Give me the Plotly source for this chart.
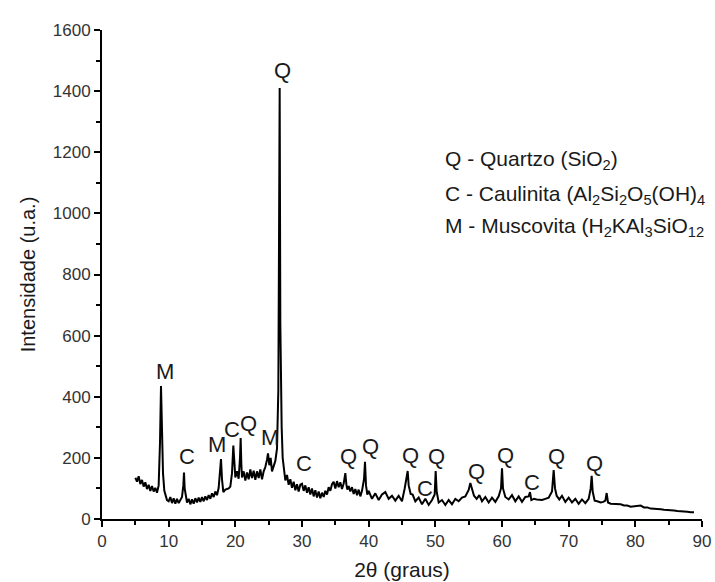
import plotly.graph_objects as go

# XRD pattern (2theta in degrees, intensity in a.u.)
two_theta = [
    5.0, 5.25, 5.5, 5.75, 6.0, 6.25, 6.5, 6.75, 7.0, 7.25, 7.5, 7.75, 8.0, 8.25, 8.5, 8.7, 8.85, 9.0, 9.15, 9.35,
    9.5, 9.75, 10.0, 10.25, 10.5, 10.75, 11.0, 11.25, 11.5, 11.75, 12.0, 12.2, 12.3, 12.4, 12.6, 12.75, 13.0, 13.25,
    13.5, 13.75, 14.0, 14.25, 14.5, 14.75, 15.0, 15.25, 15.5, 15.75, 16.0, 16.25, 16.5, 16.75, 17.0, 17.25, 17.5,
    17.7, 17.85, 18.0, 18.2, 18.5, 18.75, 19.0, 19.25, 19.5, 19.7, 19.85, 20.0, 20.25, 20.5, 20.7, 20.8, 20.9, 21.0,
    21.25, 21.5, 21.75, 22.0, 22.25, 22.5, 22.75, 23.0, 23.25, 23.5, 23.75, 24.0, 24.25, 24.5, 24.75, 24.9, 25.1,
    25.3, 25.5, 25.75, 26.0, 26.25, 26.45, 26.55, 26.65, 26.75, 26.85, 26.95, 27.1, 27.3, 27.5, 27.75, 28.0, 28.25,
    28.5, 28.75, 29.0, 29.25, 29.5, 29.75, 30.0, 30.25, 30.5, 30.75, 31.0, 31.25, 31.5, 31.75, 32.0, 32.25, 32.5,
    32.75, 33.0, 33.25, 33.5, 33.75, 34.0, 34.25, 34.5, 34.75, 35.0, 35.25, 35.5, 35.75, 36.0, 36.25, 36.5, 36.65,
    36.8, 37.0, 37.25, 37.5, 37.75, 38.0, 38.25, 38.5, 38.75, 39.0, 39.3, 39.45, 39.6, 39.8, 40.0, 40.5, 41.0, 41.5,
    42.0, 42.5, 43.0, 43.5, 44.0, 44.5, 45.0, 45.4, 45.7, 45.85, 46.0, 46.3, 46.6, 47.0, 47.5, 48.0, 48.5, 49.0,
    49.5, 49.9, 50.05, 50.2, 50.5, 51.0, 51.5, 52.0, 52.5, 53.0, 53.5, 54.0, 54.5, 55.0, 55.25, 55.5, 55.8, 56.2,
    56.6, 57.0, 57.5, 58.0, 58.5, 59.0, 59.5, 59.85, 60.0, 60.15, 60.5, 61.0, 61.5, 62.0, 62.5, 63.0, 63.5, 64.0,
    64.2, 64.4, 64.8, 65.2, 65.6, 66.0, 66.5, 67.0, 67.5, 67.75, 67.95, 68.2, 68.6, 69.0, 69.5, 70.0, 70.5, 71.0,
    71.5, 72.0, 72.5, 73.0, 73.3, 73.45, 73.6, 73.9, 74.3, 74.8, 75.2, 75.5, 75.7, 75.9, 76.3, 76.8, 77.3, 77.8,
    78.3, 78.8, 79.3, 79.8, 80.3, 80.8, 81.3, 81.8, 82.3, 82.8, 83.3, 83.8, 84.3, 84.8, 85.3, 85.8, 86.3, 86.8,
    87.3, 87.8, 88.3, 88.8, 89.3, 89.8,
]
intensity = [
    135, 122, 140, 114, 128, 106, 120, 98, 112, 92, 108, 90, 102, 86, 110, 250, 435, 300, 150, 92,
    80, 62, 58, 72, 52, 68, 50, 66, 52, 64, 72, 110, 152, 100, 70, 54, 66, 48, 64, 50, 68, 54, 70, 56,
    72, 58, 74, 62, 78, 66, 84, 72, 90, 78, 102, 160, 196, 130, 88, 96, 98, 100, 106, 150, 240, 170, 136,
    156, 132, 200, 265, 180, 136, 156, 126, 152, 130, 162, 134, 158, 128, 156, 134, 162, 130, 156, 170,
    194, 215, 176, 200, 156, 174, 190, 230, 420, 900, 1410, 640, 440, 300, 200, 164, 126, 144, 112, 130,
    102, 122, 94, 114, 90, 112, 115, 92, 110, 86, 104, 80, 100, 74, 94, 70, 90, 68, 86, 72, 92, 80, 104,
    92, 114, 122, 100, 124, 104, 120, 98, 116, 150, 114, 96, 108, 90, 104, 82, 98, 78, 96, 74, 92, 130,
    187, 110, 80, 92, 66, 84, 62, 80, 88, 66, 76, 60, 76, 58, 100, 140, 157, 110, 82, 80, 58, 70, 48,
    66, 46, 62, 80, 157, 90, 54, 62, 46, 62, 48, 66, 58, 70, 74, 95, 118, 96, 76, 66, 78, 58, 72, 54, 70,
    56, 74, 100, 166, 100, 72, 64, 78, 58, 74, 56, 72, 74, 88, 62, 66, 64, 64, 62, 66, 70, 90, 160, 100,
    76, 64, 76, 56, 70, 54, 66, 50, 64, 52, 66, 100, 141, 90, 60, 58, 54, 56, 60, 85, 54, 50, 50, 48, 48,
    44, 44, 40, 42, 42, 44, 38, 38, 34, 34, 32, 32, 30, 30, 28, 28, 26, 26, 24, 24, 22, 22,
]

# Peak labels: phase letter, label position (2theta, intensity)
peak_phase = ["M", "C", "M", "C", "Q", "M", "Q", "C", "Q", "Q", "Q", "C", "Q", "Q", "Q", "C", "Q", "Q"]
peak_label_x = [9.4, 12.7, 17.3, 19.5, 21.9, 25.2, 27.1, 30.3, 36.9, 40.2, 46.2, 48.5, 50.2, 56.1, 60.5, 64.5, 68.1, 73.8]
peak_label_y = [481, 203, 245, 294, 314, 268, 1469, 180, 206, 236, 209, 101, 203, 154, 209, 118, 206, 183]

legend_lines = [
    "Q - Quartzo (SiO<sub>2</sub>)",
    "C - Caulinita (Al<sub>2</sub>Si<sub>2</sub>O<sub>5</sub>(OH)<sub>4</sub>",
    "M - Muscovita (H<sub>2</sub>KAl<sub>3</sub>SiO<sub>12</sub>",
]

x_ticks = [0, 10, 20, 30, 40, 50, 60, 70, 80, 90]
y_ticks = [0, 200, 400, 600, 800, 1000, 1200, 1400, 1600]

FONT = "Arial"

fig = go.Figure()
fig.add_trace(go.Scatter(
    x=two_theta, y=intensity, mode="lines",
    line=dict(color="black", width=2),
    showlegend=False, hoverinfo="skip",
))

annotations = []
for t, x, y in zip(peak_phase, peak_label_x, peak_label_y):
    annotations.append(dict(
        x=x, y=y, xref="x", yref="y", text=t, showarrow=False,
        xanchor="center", yanchor="middle",
        font=dict(family=FONT, size=22, color="#1a1a1a"),
    ))

legend_y = [0.734, 0.663, 0.597]
for txt, yy in zip(legend_lines, legend_y):
    annotations.append(dict(
        x=0.568, y=yy, xref="paper", yref="paper", text=txt, showarrow=False,
        xanchor="left", yanchor="middle",
        font=dict(family=FONT, size=21, color="#1a1a1a"),
    ))

fig.update_layout(
    width=715, height=582,
    margin=dict(l=102, r=13, t=30, b=63, autoexpand=False),
    paper_bgcolor="white", plot_bgcolor="white",
    font=dict(family=FONT, color="#333"),
    annotations=annotations,
    xaxis=dict(
        range=[0, 90], tickvals=x_ticks, ticktext=[str(v) for v in x_ticks],
        automargin=False,
        showgrid=False, zeroline=False,
        showline=True, linecolor="black", linewidth=2,
        ticks="outside", ticklen=6, tickwidth=2, tickcolor="black",
        minor=dict(dtick=5, tick0=0, ticks="outside", ticklen=4, tickwidth=1.5, tickcolor="black"),
        tickfont=dict(family=FONT, size=17, color="#333"),
        title=dict(text="2θ (graus)", font=dict(family=FONT, size=21, color="#1a1a1a"), standoff=12),
    ),
    yaxis=dict(
        range=[0, 1600], tickvals=y_ticks, ticktext=[str(v) for v in y_ticks],
        automargin=False,
        showgrid=False, zeroline=False,
        showline=True, linecolor="black", linewidth=2,
        ticks="outside", ticklen=6, tickwidth=2, tickcolor="black",
        minor=dict(dtick=100, tick0=0, ticks="outside", ticklen=4, tickwidth=1.5, tickcolor="black"),
        tickfont=dict(family=FONT, size=17, color="#333"),
        title=dict(text="Intensidade (u.a.)", font=dict(family=FONT, size=20, color="#1a1a1a"), standoff=12),
    ),
)

fig.write_html("out.html")
